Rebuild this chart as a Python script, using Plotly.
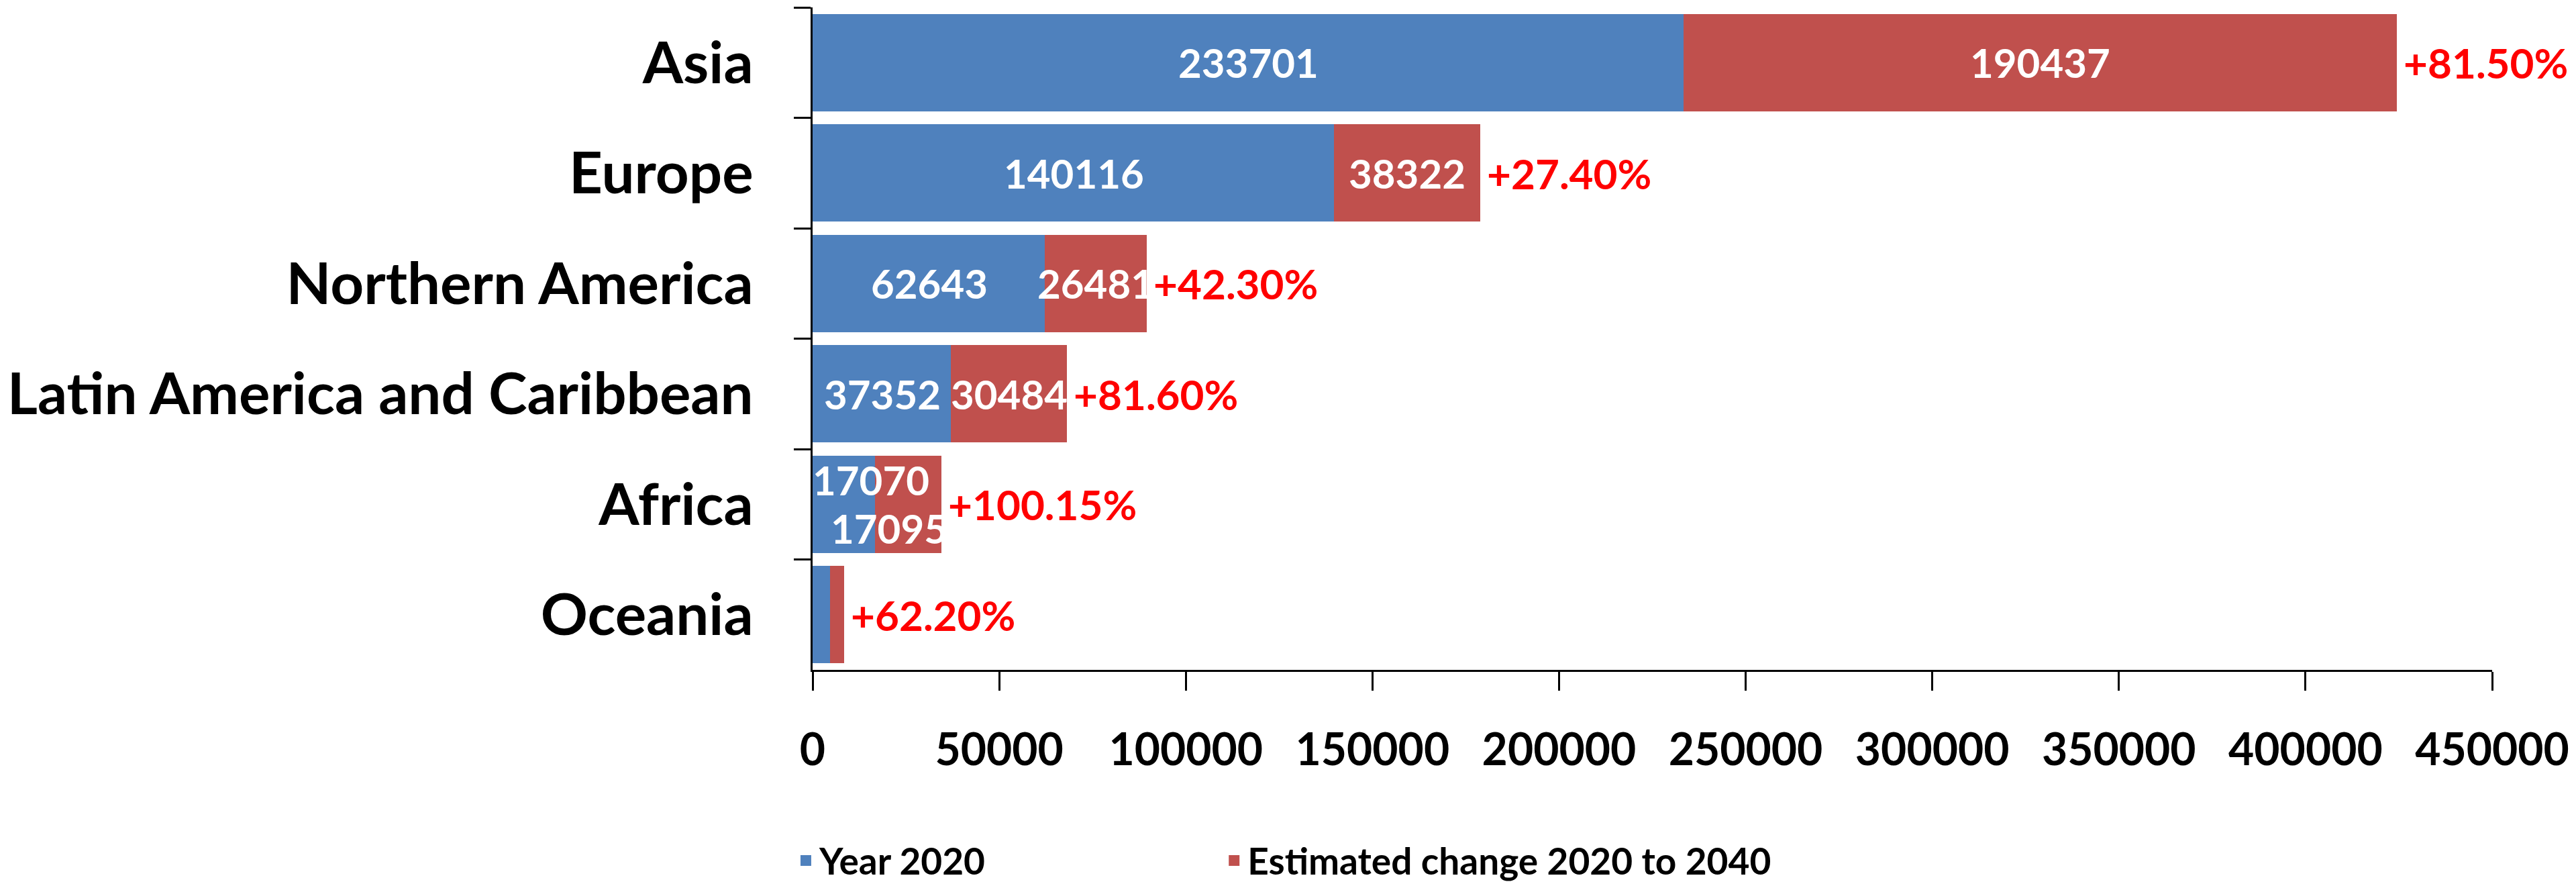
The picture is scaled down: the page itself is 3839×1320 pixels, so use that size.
import plotly.graph_objects as go

# data
regions = ["Asia", "Europe", "Northern America",
           "Latin America and Caribbean", "Africa", "Oceania"]
year_2020 = [233701, 140116, 62643, 37352, 17070, 5000]
change_2040 = [190437, 38322, 26481, 30484, 17095, 3110]
pct_change = ["+81.50%", "+27.40%", "+42.30%", "+81.60%", "+100.15%", "+62.20%"]
x_ticks = [0, 50000, 100000, 150000, 200000, 250000, 300000, 350000, 400000, 450000]

BLUE = "#4F81BD"
RED = "#C0504D"
FONT = "Lato"

W, H = 3839, 1320

fig = go.Figure()

# 1. Stacked horizontal bars (outline in same colour just to get a bigger legend swatch)
fig.add_trace(go.Bar(
    y=regions, x=year_2020, orientation="h", name="Year 2020",
    marker=dict(color=BLUE, line=dict(width=4, color=BLUE)),
    legend="legend",
))
fig.add_trace(go.Bar(
    y=regions, x=change_2040, orientation="h", name="Estimated change 2020 to 2040",
    marker=dict(color=RED, line=dict(width=4, color=RED)),
    legend="legend2",
))

# 2. Value labels inside the segments (hidden when the bar is too short)
annotations = []
for i, region in enumerate(regions):
    base = year_2020[i]
    extra = change_2040[i]
    total = base + extra
    crowded = base < 20000 and extra < 20000
    if base > 10000:
        annotations.append(dict(
            x=base / 2, y=region, text=str(base), showarrow=False,
            xshift=40 if crowded else 0, yshift=36 if crowded else 0,
            font=dict(family=FONT, size=60, color="white", weight="bold"),
        ))
    if extra > 10000:
        annotations.append(dict(
            x=base + extra / 2, y=region, text=str(extra), showarrow=False,
            xshift=-28 if crowded else 0, yshift=-36 if crowded else 0,
            font=dict(family=FONT, size=60, color="white", weight="bold"),
        ))
    # percentage change right of the bar end
    annotations.append(dict(
        x=total, y=region, text=pct_change[i], showarrow=False,
        xanchor="left", xshift=10,
        font=dict(family=FONT, size=62, color="#FF0000", weight="bold"),
    ))

# 3. Layout - one legend per series so the gap between them matches
legend_style = dict(
    orientation="h",
    xanchor="left",
    y=-0.288, yanchor="middle",
    font=dict(family=FONT, size=55, color="black", weight="bold"),
    itemwidth=30,
    bgcolor="rgba(0,0,0,0)",
)
fig.update_layout(
    barmode="stack",
    bargap=0.145,
    width=W, height=H,
    margin=dict(l=1195, r=133, t=3, b=330),
    paper_bgcolor="white",
    plot_bgcolor="white",
    font=dict(family=FONT, size=60, color="black", weight="bold"),
    annotations=annotations,
    legend=dict(legend_style, x=-0.012),
    legend2=dict(legend_style, x=0.243),
    showlegend=True,
)

fig.update_xaxes(
    range=[0, 450000],
    tickvals=x_ticks,
    ticktext=[str(v) for v in x_ticks],
    showgrid=False, zeroline=False,
    showline=True, linecolor="black", linewidth=3,
    ticks="outside", ticklen=28, tickwidth=3, tickcolor="black",
    ticklabelstandoff=32,
    tickfont=dict(family=FONT, size=66, color="black", weight="bold"),
)
fig.update_yaxes(
    categoryorder="array", categoryarray=regions,
    autorange="reversed",
    showgrid=False, zeroline=False,
    showline=True, linecolor="black", linewidth=3,
    ticks="outside", ticklen=25, tickwidth=3, tickcolor="black",
    tickson="boundaries",
    ticklabelstandoff=68,
    tickfont=dict(family=FONT, size=87, color="black", weight="bold"),
)

fig.write_html("out.html")
